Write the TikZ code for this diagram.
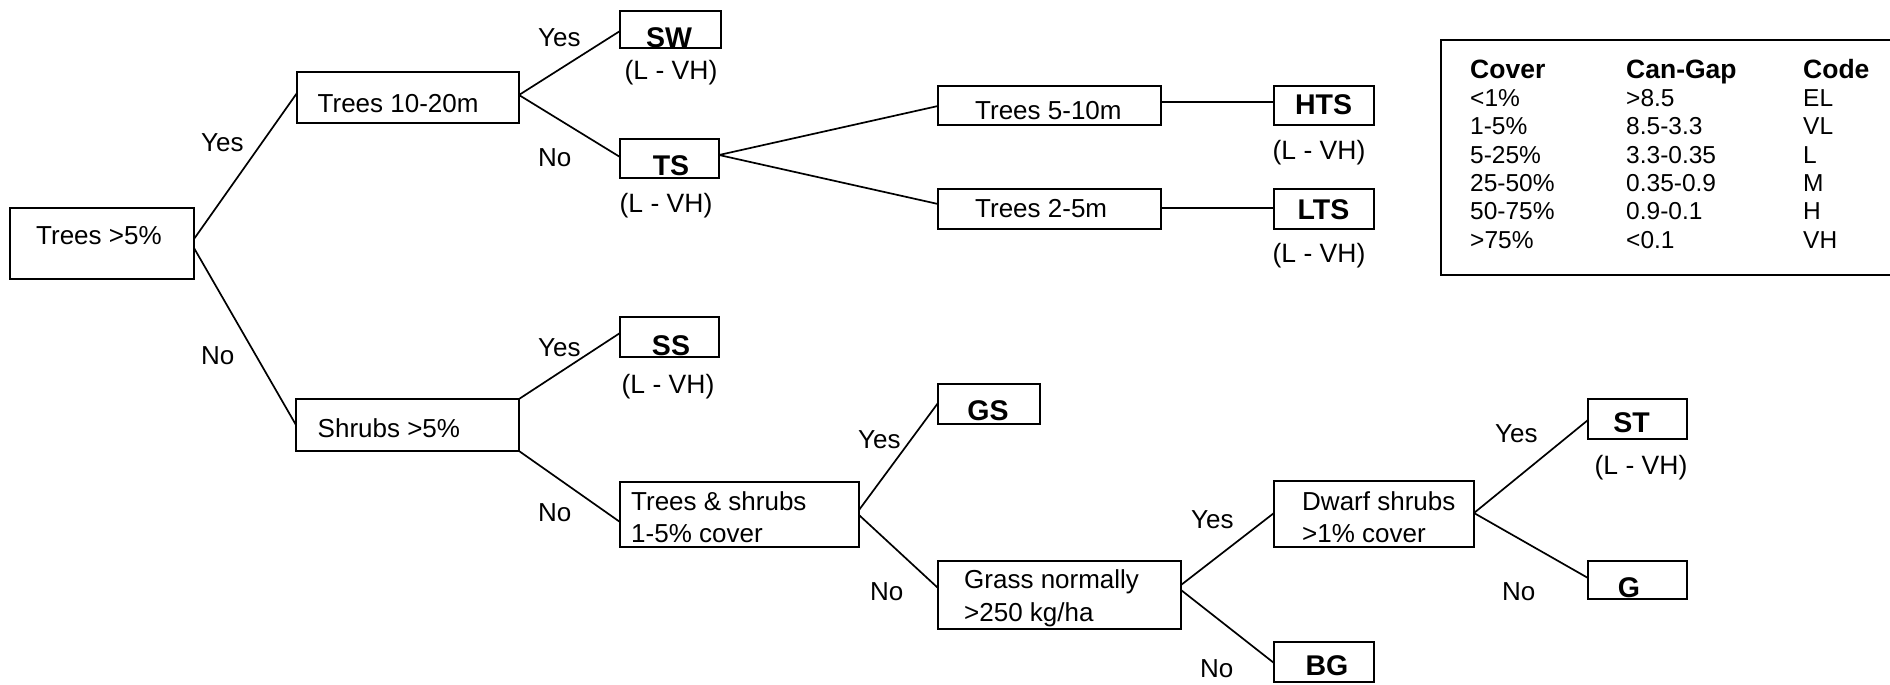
\documentclass[tikz,border=0pt]{standalone}
\usepackage{fontspec}
\setmainfont{Liberation Sans}
\usetikzlibrary{calc}
\begin{document}
\begin{tikzpicture}[x=1pt,y=-1pt,
  box/.style 2 args={draw, line width=2.2pt, inner sep=0pt, outer sep=0pt, minimum width=#1, minimum height=#2},
  conn/.style={line width=1.7pt},
  txt/.style={inner sep=0pt, anchor=base west, font=\fontsize{26}{30}\selectfont},
  code/.style={inner sep=0pt, anchor=base, font=\bfseries\fontsize{28.5}{30}\selectfont},
  rng/.style={inner sep=0pt, anchor=base, font=\fontsize{26.5}{30}\selectfont},
  lbl/.style={inner sep=0pt, anchor=base west, font=\fontsize{26}{30}\selectfont},
  lghead/.style={inner sep=0pt, anchor=base west, font=\bfseries\fontsize{26.5}{30}\selectfont},
  lgcell/.style={inner sep=0pt, anchor=base west, font=\fontsize{24.5}{30}\selectfont}]
\useasboundingbox (0,0) rectangle (1890,685);

% boxes
\node[box={184pt}{71pt}] (t5) at (102,243.5) {};
\node[box={222pt}{51pt}] (t1020) at (408,97.5) {};
\node[box={101pt}{37pt}] (sw) at (670.5,29.5) {};
\node[box={99pt}{39pt}] (ts) at (669.5,158.5) {};
\node[box={223pt}{39pt}] (t510) at (1049.5,105.5) {};
\node[box={100pt}{39pt}] (hts) at (1324,105.5) {};
\node[box={223pt}{40pt}] (t25) at (1049.5,209) {};
\node[box={100pt}{40pt}] (lts) at (1324,209) {};
\node[box={223pt}{52pt}] (shr) at (407.5,425) {};
\node[box={99pt}{40pt}] (ss) at (669.5,337) {};
\node[box={239pt}{65pt}] (tas) at (739.5,514.5) {};
\node[box={102pt}{40pt}] (gs) at (989,404) {};
\node[box={243pt}{68pt}] (grass) at (1059.5,595) {};
\node[box={200pt}{66pt}] (dwarf) at (1374,514) {};
\node[box={100pt}{40pt}] (bg) at (1324,662) {};
\node[box={99pt}{40pt}] (st) at (1637.5,419) {};
\node[box={99pt}{38pt}] (g) at (1637.5,580) {};

% box texts
\node[txt] (t5t) at (36,244) {Trees >5\%};
\node[txt] (t1020t) at (317.5,112) {Trees 10-20m};
\node[txt] (t510t) at (975,119) {Trees 5-10m};
\node[txt] (t25t) at (975,217) {Trees 2-5m};
\node[txt] (shrt) at (317.5,437) {Shrubs >5\%};
\node[txt] (tast1) at (631,510) {Trees \& shrubs};
\node[txt] (tast2) at (631,542) {1-5\% cover};
\node[txt] (grt1) at (964,588) {Grass normally};
\node[txt] (grt2) at (964,621) {>250 kg/ha};
\node[txt] (dwt1) at (1302,510) {Dwarf shrubs};
\node[txt] (dwt2) at (1302,542) {>1\% cover};

\node[code] (swt) at (669,47.5) {SW};
\node[code] (tst) at (671,175.5) {TS};
\node[code] (htst) at (1323.5,114) {HTS};
\node[code] (ltst) at (1323.5,219) {LTS};
\node[code] (sst) at (671,355) {SS};
\node[code] (gst) at (988,420) {GS};
\node[code] (stt) at (1631.5,432) {ST};
\node[code] (gt) at (1629,597) {G};
\node[code] (bgt) at (1327,675) {BG};

% ranges
\node[rng] (r1) at (671,79) {(L - VH)};
\node[rng] (r2) at (666,212) {(L - VH)};
\node[rng] (r3) at (1319,159) {(L - VH)};
\node[rng] (r4) at (1319,262) {(L - VH)};
\node[rng] (r5) at (668,393) {(L - VH)};
\node[rng] (r6) at (1641,474) {(L - VH)};

% connectors
\draw[conn] ($(t5.east)+(0,-4.5)$) -- ($(t1020.west)+(0,-4.5)$);
\draw[conn] ($(t5.east)+(0,4.5)$) -- (shr.west);
\draw[conn] ($(t1020.east)+(0,-2.5)$) -- ($(sw.west)+(0,1.5)$);
\draw[conn] ($(t1020.east)+(0,-2.5)$) -- ($(ts.west)+(0,-1.5)$);
\draw[conn] ($(ts.east)+(0,-3.5)$) -- ($(t510.west)+(0,0.5)$);
\draw[conn] ($(ts.east)+(0,-3.5)$) -- ($(t25.west)+(0,-5)$);
\draw[conn] ($(t510.east)+(0,-3.5)$) -- ($(hts.west)+(0,-3.5)$);
\draw[conn] ($(t25.east)+(0,-1)$) -- ($(lts.west)+(0,-1)$);
\draw[conn] (shr.north east) -- ($(ss.west)+(0,-4)$);
\draw[conn] (shr.south east) -- ($(tas.west)+(0,7.5)$);
\draw[conn] ($(tas.east)+(0,-4.5)$) -- ($(gs.west)+(0,-1)$);
\draw[conn] ($(tas.east)+(0,0.5)$) -- ($(grass.west)+(0,-7)$);
\draw[conn] ($(grass.east)+(0,-10)$) -- ($(dwarf.west)+(0,-1)$);
\draw[conn] ($(grass.east)+(0,-5)$) -- ($(bg.west)+(0,1)$);
\draw[conn] ($(dwarf.east)+(0,-1)$) -- ($(st.west)+(0,1)$);
\draw[conn] ($(dwarf.east)+(0,-1)$) -- ($(g.west)+(0,-2)$);

% yes/no labels
\node[lbl] (y1) at (201,151) {Yes};
\node[lbl] (n1) at (201,364) {No};
\node[lbl] (y2) at (538,47) {Yes};
\node[lbl] (n2) at (538,166) {No};
\node[lbl] (y3) at (538,356) {Yes};
\node[lbl] (n3) at (538,521) {No};
\node[lbl] (y4) at (858,448) {Yes};
\node[lbl] (n4) at (870,600) {No};
\node[lbl] (y5) at (1191,528) {Yes};
\node[lbl] (n5) at (1200,677) {No};
\node[lbl] (y6) at (1495,442) {Yes};
\node[lbl] (n6) at (1502,600) {No};

% legend
\draw[line width=2.5pt] (1895,40) -- (1441,40) -- (1441,275) -- (1895,275);
\node[lghead] (h1) at (1470,78.3) {Cover};
\node[lghead] (h2) at (1626,78.3) {Can-Gap};
\node[lghead] (h3) at (1803,78.3) {Code};
\foreach \a/\b/\c [count=\i] in {<1\%/>8.5/EL, 1-5\%/8.5-3.3/VL, 5-25\%/3.3-0.35/L, 25-50\%/0.35-0.9/M, 50-75\%/0.9-0.1/H, >75\%/<0.1/VH}{
  \node[lgcell] (c1\i) at (1470,78.3+28.33*\i) {\a};
  \node[lgcell] (c2\i) at (1626,78.3+28.33*\i) {\b};
  \node[lgcell] (c3\i) at (1803,78.3+28.33*\i) {\c};
}
\end{tikzpicture}
\end{document}
